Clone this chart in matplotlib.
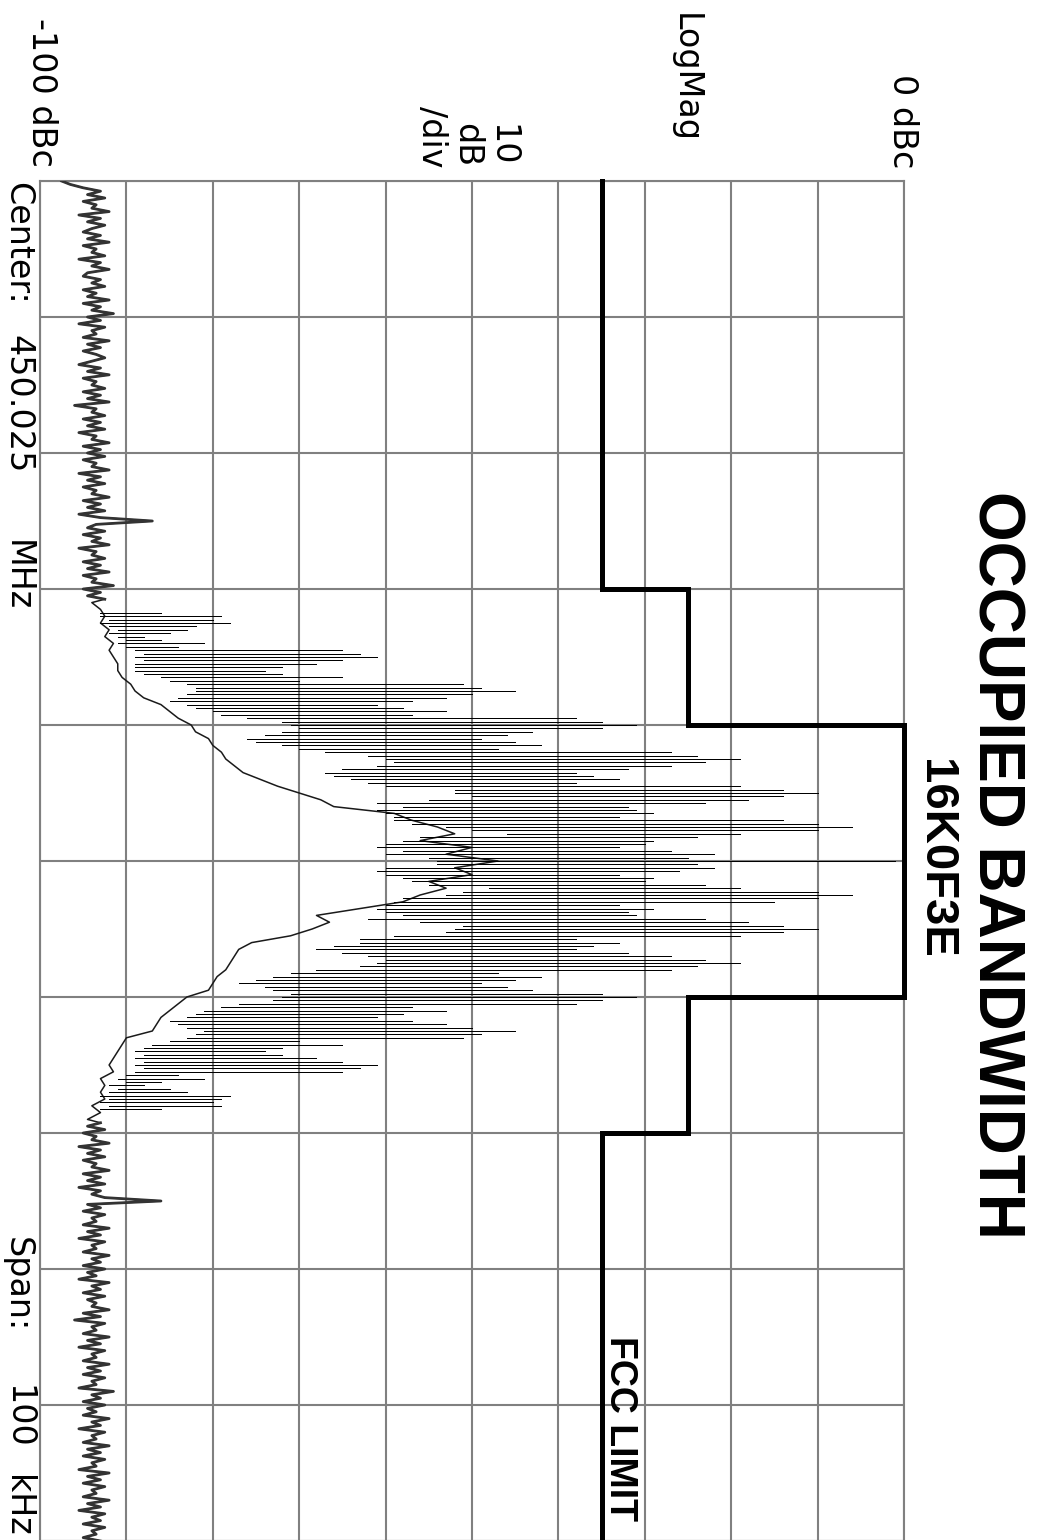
import numpy as np
import matplotlib
matplotlib.use("Agg")
import matplotlib.pyplot as plt

W, H = 1037, 1540

# ---------------- data ----------------
level_ticks = list(range(-100, 1, 10))   # dBc
freq_ticks = list(range(-50, 51, 10))    # kHz offset from 450.025 MHz

# noise floor, left of the signal: 0.25 kHz points, -50 .. -19.25 kHz
noise_left_freq = np.linspace(-50, -19.25, 124)
noise_left_level = [
    -97.5, -96.5, -95, -93, -94.5, -92.5, -95, -93.5, -94, -92,
    -95.5, -93, -94.5, -92.5, -94, -95, -93, -94.5, -92, -95,
    -93.5, -94, -92.5, -95.5, -93, -94, -92, -94.5, -95, -93,
    -94, -92.5, -95, -93.5, -94.5, -92, -95, -93, -94, -91.5,
    -94.5, -93, -95.5, -92.5, -94, -93.5, -95, -92, -94.5, -93,
    -95, -93.5, -92.5, -94, -95.5, -93, -94.5, -92, -95, -93.5,
    -94, -92.5, -95, -93, -94.5, -92, -96, -93.5, -94, -92.5,
    -95, -93, -94.5, -92.5, -95.5, -93.5, -94, -92, -95, -93,
    -94.5, -92.5, -95, -93.5, -94, -92, -95.5, -93, -94.5, -92.5,
    -95, -93.5, -94, -92, -95, -93, -94.5, -92.5, -95.5, -93,
    -87, -93.5, -94.5, -92.5, -95, -93, -94, -92, -95.5, -93.5,
    -94, -92.5, -95, -93, -94.5, -92, -95, -93.5, -94, -91.5,
    -95, -93, -94.5, -92.5,
]

# lower sweep trace across the signal: 0.5 kHz points, -19 .. +19 kHz
env_freq = np.linspace(-19, 19, 77)
env_level = [
    -94, -93, -92.5, -93, -92, -92.5, -91.5, -92, -91.5, -91,
    -91, -90.5, -89.5, -89, -88, -86, -85, -84, -82.5, -82,
    -80.5, -80, -79, -78.5, -77.5, -76.5, -74.5, -72.5, -70, -67.5,
    -66, -59, -57, -54, -52, -56, -50, -53, -47, -52,
    -50, -55, -53, -56, -58, -63, -68, -66.5, -68.5, -71,
    -75.5, -77, -77.5, -78, -78.5, -79.5, -80, -80.5, -83, -84,
    -85, -86, -86.5, -87, -90, -90.5, -91, -91.5, -92, -91.5,
    -93, -92.5, -93, -92.5, -94, -93, -94.5,
]

# noise floor, right of the signal: 0.25 kHz points, +19.25 .. +50 kHz
noise_right_freq = np.linspace(19.25, 50, 124)
noise_right_level = [
    -93, -94.5, -92.5, -95, -93.5, -94, -92, -95.5, -93, -94.5,
    -92.5, -95, -93.5, -94, -92, -95, -93, -94.5, -92.5, -95.5,
    -93, -94, -92.5, -86, -94.5, -93, -95, -92.5, -94, -93.5,
    -95, -92, -94.5, -93, -95.5, -92.5, -94, -93.5, -95, -92,
    -94, -93, -95, -92.5, -94.5, -93.5, -95.5, -92, -94, -93,
    -95, -92.5, -94.5, -93.5, -94, -92, -95, -93, -96, -92.5,
    -94, -93.5, -95, -92, -94.5, -93, -95.5, -92.5, -94, -93.5,
    -95, -92, -94.5, -93, -95, -92.5, -94, -93.5, -95.5, -91.5,
    -94, -93, -95, -92.5, -94.5, -93.5, -95, -92, -94, -93,
    -95.5, -92.5, -94, -93.5, -95, -92, -94.5, -93, -95, -92.5,
    -94, -93.5, -95.5, -92, -94.5, -93, -95, -92.5, -94, -93.5,
    -95, -92, -94.5, -93, -95.5, -92.5, -94, -93, -95, -92.5,
    -94, -93.5, -95, -93,
]

# FM sidebands: per-row min / max readings, 0.25 kHz rows, -18.25 .. +18.25 kHz
row_freq = np.linspace(-18.25, 18.25, 147)
row_high = [
    -86, -79, -80, -78, -82, -83, -85, -88, -86, -81,
    -84, -65, -63, -61, -65, -68, -72, -74, -72, -65,
    -70, -51, -49, -45, -50, -53, -57, -61, -58, -53,
    -57, -38, -35, -31, -35, -43, -46, -49, -45, -42,
    -47, -27, -24, -19, -23, -27, -32, -38, -36, -33,
    -38, -19, -14, -10, -14, -18, -23, -32, -31, -29,
    -33, -14, -10, -6, -10, -19, -24, -29, -30, -33,
    -27, -22, -25,
    -1,
    -24, -22, -26, -33, -29, -30, -23, -19, -10, -6,
    -10, -15, -33, -29, -32, -31, -23, -18, -14, -10,
    -14, -19, -38, -33, -36, -38, -32, -27, -23, -19,
    -24, -27, -47, -42, -45, -49, -46, -43, -35, -31,
    -35, -38, -57, -53, -58, -61, -57, -53, -50, -45,
    -49, -51, -70, -65, -72, -74, -72, -68, -65, -61,
    -63, -65, -84, -81, -86, -88, -85, -83, -78, -79,
    -80, -79, -86,
]
row_low = [
    -93, -93, -92, -93, -92, -91, -92, -91, -90, -91,
    -90, -89, -88, -89, -88, -89, -89, -89, -88, -86,
    -85, -83, -82, -82, -83, -84, -85, -83, -82, -80,
    -79, -76, -72, -71, -70, -72, -74, -76, -75, -72,
    -70, -67, -62, -60, -59, -61, -65, -67, -66, -64,
    -62, -60, -52, -52, -50, -55, -61, -58, -61, -60,
    -59, -59, -57, -53, -50, -46, -56, -58, -60, -61,
    -58, -60, -55,
    -54,
    -54, -60, -61, -60, -58, -57, -55, -48, -51, -53,
    -58, -59, -60, -61, -60, -58, -62, -56, -51, -52,
    -53, -59, -63, -63, -66, -68, -65, -62, -60, -61,
    -63, -68, -71, -73, -75, -77, -74, -73, -71, -72,
    -73, -77, -79, -81, -82, -83, -85, -84, -83, -81,
    -82, -83, -85, -87, -88, -89, -88, -89, -88, -89,
    -88, -89, -90, -91, -90, -92, -91, -92, -93, -92,
    -93, -92, -93,
]

# FCC emission mask (dBc)
fcc_freq = [-50, -20, -20, -10, -10, 10, 10, 20, 20, 50]
fcc_level = [-35, -35, -25, -25, 0, 0, -25, -25, -35, -35]

# ---------------- figure ----------------
fig = plt.figure(figsize=(W / 100, H / 100), dpi=100)
fig.patch.set_facecolor("white")
ax = fig.add_axes([40 / W, (H - 1541) / H, 864 / W, 1360 / H])
ax.set_xlim(-100, 0)
ax.set_ylim(50, -50)
ax.set_xticks(level_ticks)
ax.set_yticks(freq_ticks)
ax.tick_params(length=0, labelleft=False, labelbottom=False)
ax.grid(True, color="#808080", linewidth=1.5)
ax.set_axisbelow(True)
for sp in ax.spines.values():
    sp.set_color("#808080")
    sp.set_linewidth(1.5)

# full trace (thin) then noise floor segments drawn heavier
all_freq = np.concatenate([noise_left_freq, env_freq, noise_right_freq])
all_level = np.concatenate([noise_left_level, env_level, noise_right_level])
ax.plot(all_level, all_freq, color="#1a1a1a", linewidth=1.1, zorder=3)
ax.plot(noise_left_level, noise_left_freq, color="#333333", linewidth=2.0, zorder=3)
ax.plot(noise_right_level, noise_right_freq, color="#333333", linewidth=2.0, zorder=3)

ax.hlines(row_freq, row_low, row_high, colors="black", linewidth=0.5,
          antialiased=False, zorder=3)
ax.plot(fcc_level, fcc_freq, color="black", linewidth=3.6, zorder=4,
        clip_on=False, solid_joinstyle="miter")


def ptext(x, y, s, ha="left", **kw):
    fig.text(x / W, 1 - y / H, s, rotation=-90, rotation_mode="anchor",
             ha=ha, va="baseline", **kw)


small = dict(fontsize=24, family="DejaVu Sans", color="black")
ptext(32, 167, "-100 dBc", ha="right", **small)
ptext(893, 168, "0 dBc", ha="right", **small)
ptext(676, 78, "LogMag", ha="center", **small)
ptext(492, 167, "10", ha="right", **small)
ptext(457, 167, "dB", ha="right", **small)
ptext(422, 167, "/div", ha="right", **small)
ptext(8, 182, "Center:", **small)
ptext(8, 335, "450.025", **small)
ptext(8, 540, "MHz", **small)
ptext(8, 1237, "Span:", **small)
ptext(8, 1385, "100", **small)
ptext(8, 1475, "kHz", **small)

ptext(978, 865, "OCCUPIED BANDWIDTH", ha="center", fontsize=46,
      family="Liberation Sans", weight="bold")
ptext(923, 859, "16K0F3E", ha="center", fontsize=34,
      family="Liberation Sans", weight="bold")
ptext(610, 1336, "FCC LIMIT", fontsize=27, family="Liberation Sans",
      weight="bold")

fig.savefig("out.png", dpi=100, facecolor="white")
